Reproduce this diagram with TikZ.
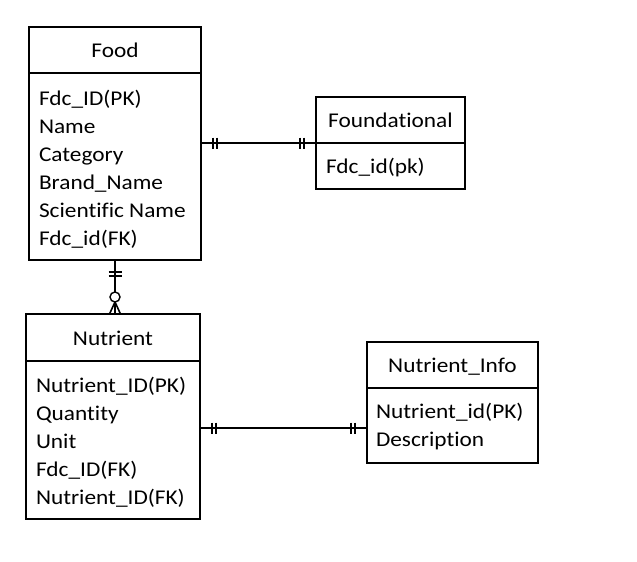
\documentclass[tikz,border=0pt]{standalone}
\usepackage{fontspec}
\setmainfont{Carlito}[FakeStretch=1.11, Ligatures={NoCommon}]
\begin{document}
\begin{tikzpicture}[x=1pt,y=-1pt,
  every node/.style={inner sep=0pt, outer sep=0pt, font=\fontsize{21}{25}\selectfont},
  entity/.style={draw, line width=1.4pt, rectangle, fill=none},
  ttl/.style={anchor=base},
  fld/.style={anchor=base west},
  rel/.style={line width=1.6pt},
  tick/.style={line width=1.4pt}]
\fill[white] (0,0) rectangle (637,562);
\useasboundingbox (0,0) rectangle (637,562);

% Food
\node[entity, minimum width=172pt, minimum height=233pt] (food) at (115,143.5) {};
\draw[line width=1.6pt] (food.west |- 0,73) -- (food.east |- 0,73);
\node[ttl] (foodt) at (115,57) {Food};
\node[fld] (f1) at (39,105) {Fdc\_ID(PK)};
\node[fld] (f2) at (39,133) {Name};
\node[fld] (f3) at (39,161) {Category};
\node[fld] (f4) at (39,189) {Brand\_Name};
\node[fld] (f5) at (39,217) {Scientific Name};
\node[fld] (f6) at (39,245) {Fdc\_id(FK)};

% Foundational
\node[entity, minimum width=149pt, minimum height=92pt] (found) at (390.5,143) {};
\draw[line width=1.6pt] (found.west |- 0,143) -- (found.east |- 0,143);
\node[ttl] (foundt) at (390.5,127) {Foundational};
\node[fld] (g1) at (326,173) {Fdc\_id(pk)};

% Nutrient
\node[entity, minimum width=174pt, minimum height=205pt] (nut) at (113,416.5) {};
\draw[line width=1.6pt] (nut.west |- 0,361) -- (nut.east |- 0,361);
\node[ttl] (nutt) at (113,345) {Nutrient};
\node[fld] (n1) at (36,392) {Nutrient\_ID(PK)};
\node[fld] (n2) at (36,420) {Quantity};
\node[fld] (n3) at (36,448) {Unit};
\node[fld] (n4) at (36,476) {Fdc\_ID(FK)};
\node[fld] (n5) at (36,504) {Nutrient\_ID(FK)};

% Nutrient_Info
\node[entity, minimum width=171pt, minimum height=121pt] (info) at (452.5,402.5) {};
\draw[line width=1.6pt] (info.west |- 0,388) -- (info.east |- 0,388);
\node[ttl] (infot) at (452.5,372) {Nutrient\_Info};
\node[fld] (i1) at (376,418) {Nutrient\_id(PK)};
\node[fld] (i2) at (376,446) {Description};

% Food -- Foundational (one to one)
\coordinate (r1) at (0,143);
\draw[rel] (food.east |- r1) -- (found.west |- r1);
\foreach \dx in {12,16} {
  \draw[tick] ([xshift=\dx pt]food.east |- r1) ++(0,-5.5) -- ++(0,11);
  \draw[tick] ([xshift=-\dx pt]found.west |- r1) ++(0,-5.5) -- ++(0,11);
}

% Nutrient -- Nutrient_Info (one to one)
\coordinate (r2) at (0,428);
\draw[rel] (nut.east |- r2) -- (info.west |- r2);
\foreach \dx in {12,16} {
  \draw[tick] ([xshift=\dx pt]nut.east |- r2) ++(0,-5.5) -- ++(0,11);
  \draw[tick] ([xshift=-\dx pt]info.west |- r2) ++(0,-5.5) -- ++(0,11);
}

% Food -- Nutrient (one to zero-or-many)
\coordinate (r3) at (115,0);
\coordinate (cc) at (115,297);
\draw[rel] (food.south -| r3) -- ([yshift=5pt]cc);
\draw[rel] ([yshift=-5pt]cc) -- (nut.north -| r3);
\foreach \dy in {12,16} {
  \draw[tick] ([yshift=-\dy pt]food.south -| r3) ++(-6.5,0) -- ++(13,0);
}
\draw[line width=1.4pt, fill=white] (cc) circle[radius=5];
\draw[rel] ([yshift=-5pt]cc) -- ([xshift=-5.5pt]nut.north -| r3);
\draw[rel] ([yshift=-5pt]cc) -- ([xshift=5.5pt]nut.north -| r3);
\end{tikzpicture}
\end{document}
